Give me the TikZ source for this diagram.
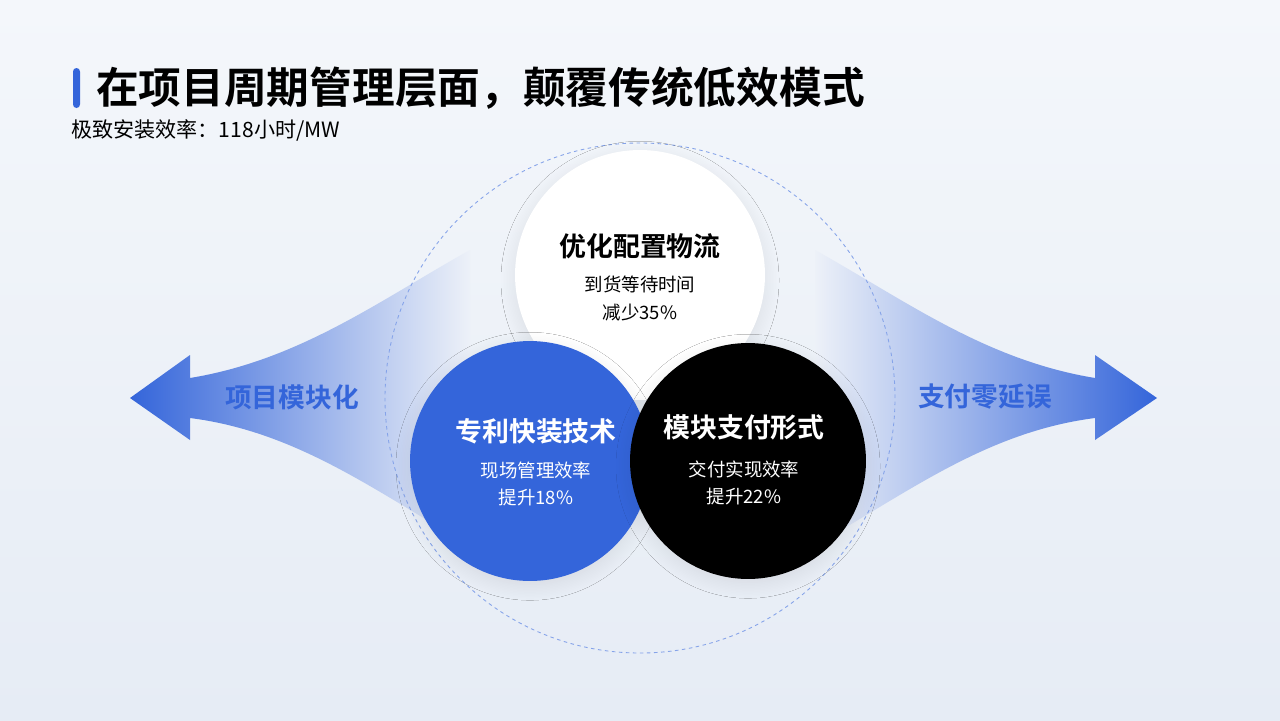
\documentclass[tikz,border=0pt]{standalone}
\usepackage{fontspec}
\setmainfont{Noto Sans CJK SC}[BoldFont={Noto Sans CJK SC Bold}]
\usetikzlibrary{positioning, shadows.blur}
\definecolor{brandblue}{HTML}{3465DA}
\definecolor{bgtop}{HTML}{F4F7FB}
\definecolor{bgbot}{HTML}{E6ECF5}
\definecolor{bgmid}{HTML}{EDF1F8}
\begin{document}
\begin{tikzpicture}[x=0.02cm, y=-0.02cm,
  disc/.style = {circle, minimum size=#1*0.04cm, inner sep=0pt, blur shadow={shadow blur steps=10, shadow opacity=8, shadow xshift=0pt, shadow yshift=-3pt, shadow blur radius=8pt}},
  head/.style = {font=\bfseries\fontsize{15.3}{18}\selectfont},
  sub/.style  = {font=\fontsize{10.5}{15.5}\selectfont, align=center},
  side/.style = {font=\bfseries\fontsize{15.2}{18}\selectfont, text=brandblue}]

% background
\shade[top color=bgtop, bottom color=bgbot] (0,0) rectangle (1280,720);
\useasboundingbox (0,0) rectangle (1280,720);

% title
\fill[brandblue, rounded corners=2pt] (73,68) rectangle (80,108);
\node (title) [anchor=west, font=\bfseries\fontsize{24.3}{28}\selectfont] at (90,88) {在项目周期管理层面，颠覆传统低效模式};
\node (subtitle) [anchor=west, font=\fontsize{12}{14}\selectfont, inner sep=0pt] at (71,130) {极致安装效率：118小时/MW};

% side arrows
\shade[left color=brandblue, right color=bgmid]
  (130,398) -- (190,355) -- (190,378)
  .. controls (300,360) and (380,300) .. (470,250)
  -- (470,545) .. controls (380,495) and (300,432) .. (190,418)
  -- (190,440) -- cycle;
\shade[right color=brandblue, left color=bgmid]
  (1157,398) -- (1095,355) -- (1095,378)
  .. controls (985,360) and (905,300) .. (815,250)
  -- (815,545) .. controls (905,495) and (985,432) .. (1095,418)
  -- (1095,440) -- cycle;

% outer ring
\node (ring) [circle, draw=brandblue!60, dash pattern=on 2pt off 2pt, line width=0.5pt, minimum size=510*0.02cm] at (640,398) {};

% circles
\node (logistics) [disc=125, fill=white] at (640,275) {};
\node (patent) [disc=120, fill=brandblue] at (530,461) {};
\node (delivery) [disc=118, fill=black] at (748,461) {};

% texts
\node (logT) [head] at (640,246) {优化配置物流};
\node (logS) [sub, below=3pt of logT] {到货等待时间\\减少35\%};
\node (patT) [head, text=white] at (536,431) {专利快装技术};
\node (patS) [sub, text=white, below=3pt of patT] {现场管理效率\\提升18\%};
\node (delT) [head, text=white] at (744,427) {模块支付形式};
\node (delS) [sub, text=white, below=5pt of delT] {交付实现效率\\提升22\%};

\node (leftLbl) [side] at (292,397) {项目模块化};
\node (rightLbl) [side] at (985,397) {支付零延误};
\end{tikzpicture}
\end{document}
